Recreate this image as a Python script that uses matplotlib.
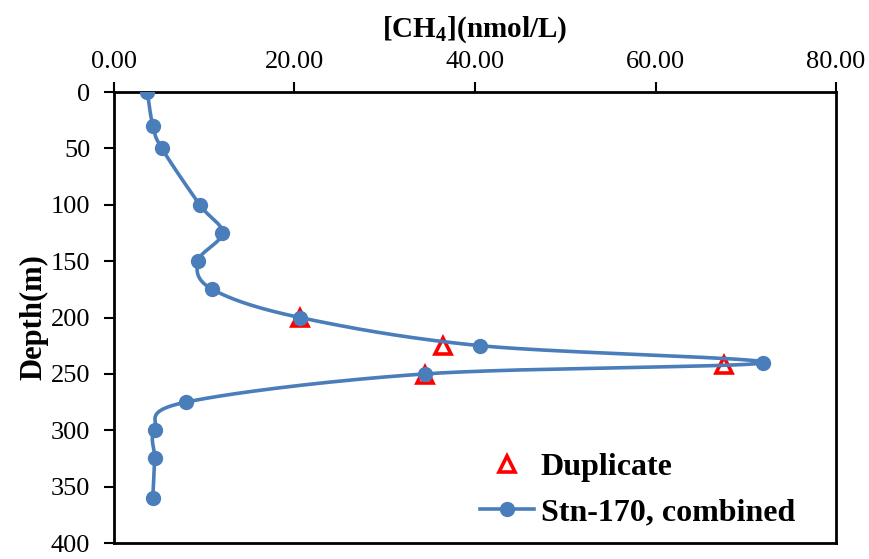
import numpy as np
import matplotlib
matplotlib.use("Agg")
import matplotlib.pyplot as plt
from matplotlib.ticker import FormatStrFormatter

# Stn-170 combined profile
depth = [0, 30, 50, 100, 125, 150, 175, 200, 225, 240, 250, 275, 300, 325, 360]
ch4 = [3.7, 4.3, 5.3, 9.5, 12.0, 9.3, 10.9, 20.6, 40.6, 71.9, 34.5, 8.0, 4.5, 4.5, 4.3]

# duplicate samples
dup_depth = [200, 225, 242, 251]
dup_ch4 = [20.6, 36.5, 67.6, 34.5]

BLUE = "#4a7ebb"
SERIF = "Liberation Serif"

plt.rcParams["font.family"] = [SERIF, "DejaVu Serif"]
plt.rcParams["mathtext.fontset"] = "custom"
plt.rcParams["mathtext.rm"] = SERIF
plt.rcParams["mathtext.bf"] = SERIF + ":bold"


def smooth_curve(x, y, sx, sy, n=40):
    """Excel-like smoothed line: Catmull-Rom bezier in scaled space."""
    px = np.asarray(x, float) * sx
    py = np.asarray(y, float) * sy
    pts = np.column_stack([px, py])
    out = []
    for i in range(len(pts) - 1):
        p0 = pts[max(i - 1, 0)]
        p1 = pts[i]
        p2 = pts[i + 1]
        p3 = pts[min(i + 2, len(pts) - 1)]
        c1 = p1 + (p2 - p0) / 6.0
        c2 = p2 - (p3 - p1) / 6.0
        t = np.linspace(0, 1, n)[:, None]
        seg = ((1 - t) ** 3 * p1 + 3 * (1 - t) ** 2 * t * c1
               + 3 * (1 - t) * t ** 2 * c2 + t ** 3 * p2)
        out.append(seg if i == 0 else seg[1:])
    out = np.vstack(out)
    return out[:, 0] / sx, out[:, 1] / sy


fig = plt.figure(figsize=(8.7, 5.59), dpi=100)
ax = fig.add_axes([0.131, 0.0286, 0.83, 0.8068])

ax.set_xlim(0, 80)
ax.set_ylim(400, 0)

# scale factors roughly matching pixels per unit on screen
sx = 722 / 80
sy = 451 / 400
cx, cy = smooth_curve(ch4, depth, sx, sy)

ax.plot(dup_ch4, dup_depth, linestyle="none", marker="^", markersize=12,
        markerfacecolor="white", markeredgecolor="#ff0000",
        markeredgewidth=2.6, zorder=2, label="Duplicate")
ax.plot(cx, cy, color=BLUE, linewidth=2.6, zorder=3)
ax.plot(ch4, depth, linestyle="none", marker="o", markersize=10,
        color=BLUE, zorder=4)
# legend proxy for the combined series
ax.plot([], [], color=BLUE, linewidth=2.6, marker="o", markersize=10,
        label="Stn-170, combined")

ax.xaxis.tick_top()
ax.xaxis.set_label_position("top")
ax.set_xticks([0, 20, 40, 60, 80])
ax.xaxis.set_major_formatter(FormatStrFormatter("%.2f"))
ax.set_yticks(np.arange(0, 401, 50))

ax.tick_params(axis="both", direction="out", length=7, width=1.5,
               labelsize=19)
ax.tick_params(axis="x", pad=7)
ax.tick_params(axis="y", pad=10)
for sp in ax.spines.values():
    sp.set_linewidth(2)

ax.set_xlabel("[CH$_\\mathbf{4}$](nmol/L)", fontsize=21, fontweight="bold",
              labelpad=10)
ax.set_ylabel("Depth(m)", fontsize=22, fontweight="bold", labelpad=2)

leg = ax.legend(loc="lower right", bbox_to_anchor=(0.943, 0.035),
                frameon=False, borderpad=0, borderaxespad=0,
                prop={"weight": "bold", "size": 23},
                handlelength=1.7, handletextpad=0.2, labelspacing=0.5)

fig.savefig("out.png", dpi=100)
